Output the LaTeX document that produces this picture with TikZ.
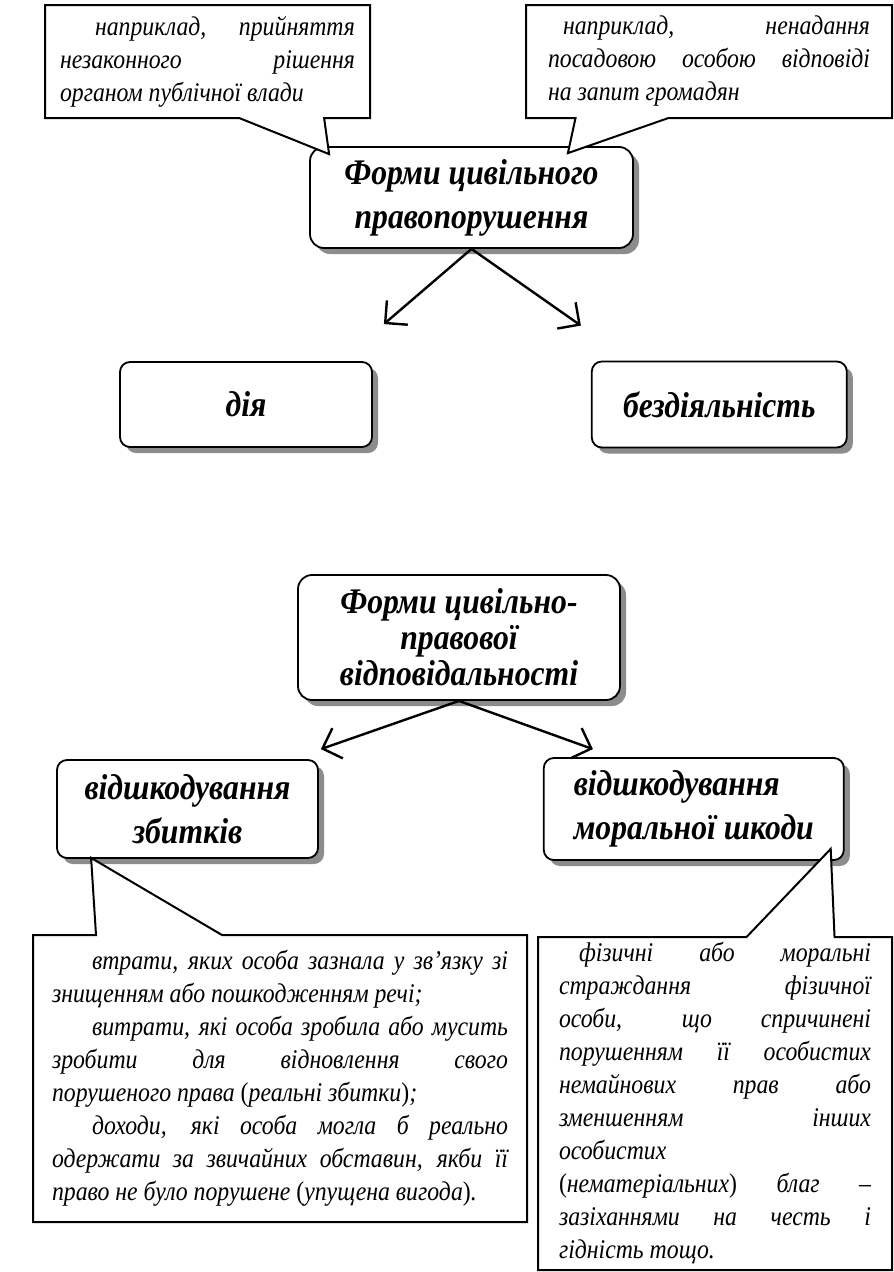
\documentclass[tikz,border=0pt]{standalone}
\usepackage{fontspec}
\setmainfont{Liberation Serif}
\newfontfamily\headfont[FakeStretch=0.88]{Liberation Serif}
\newfontfamily\notefont[FakeStretch=0.88]{Liberation Serif}
\usepackage{tikz}
\usetikzlibrary{
  arrows.meta,
  positioning,
  shapes.callouts,
  shadows
}
\definecolor{ShadowGray}{RGB}{140,140,140}
\newcommand{\parlead}[1]{\noindent\hspace*{#1}}
\tikzset{
  formbox/.style={draw,line width=1.8pt,fill=white,rounded corners=14pt,align=center,font=\headfont\fontsize{36}{44}\selectfont\bfseries\itshape,drop shadow={shadow xshift=6pt,shadow yshift=-6pt,fill=ShadowGray,opacity=1}},
  kindbox/.style={formbox,rounded corners=10pt},
  notecallout/.style={rectangle callout,draw,line width=2pt,fill=white,align=justify,inner sep=0pt,font=\notefont\fontsize{27}{33}\selectfont\itshape},
  formarrow/.style={-{Straight Barb[length=16pt,width=32pt]},line width=2.4pt}
}

\begin{document}
\begin{tikzpicture}[x=1pt,y=-1pt]
\useasboundingbox (0,0) rectangle (894,1272);
% civil offence
\node[formbox,minimum width=323pt,minimum height=101pt] (civil) at (471.5,197.5) {Форми цивільного\\правопорушення};
\node[kindbox,minimum width=252pt,minimum height=85pt] (act) at (246,404.5) {дія};
\node[kindbox,minimum width=255pt,minimum height=86pt,right=218pt of act] (omit) {бездіяльність};
\draw[formarrow] (civil.south) -- ([xshift=11pt,yshift=37pt]act.north east);
\draw[formarrow] (civil.south) -- ([xshift=-10pt,yshift=35pt]omit.north west);
\node[notecallout,text width=295pt,minimum width=325pt,minimum height=113pt,
  callout absolute pointer={([xshift=20pt,yshift=-8pt]civil.north west)},callout pointer width=85pt] (actnote) at (207.5,61.5)
  {\parlead{35pt}наприклад, прийняття\linebreak незаконного рішення\linebreak органом публічної влади};
\node[notecallout,text width=322pt,minimum width=366pt,minimum height=113pt,
  callout absolute pointer={([xshift=-66pt,yshift=-7pt]civil.north east)},callout pointer width=93pt] (omitnote) at (709,61.5)
  {\parlead{15pt}наприклад, ненадання\linebreak посадовою особою відповіді\linebreak на запит громадян};
% civil liability
\node[formbox,minimum width=322pt,minimum height=125pt,font=\headfont\fontsize{36}{36}\selectfont\bfseries\itshape] (liab) at (459,637.5) {Форми цивільно-\\правової\\відповідальності};
\node[kindbox,minimum width=261pt,minimum height=98pt] (loss) at (187.5,809) {відшкодування\\збитків};
\node[kindbox,minimum width=300pt,minimum height=102pt,align=left,right=224pt of loss] (moral) {відшкодування\\моральної шкоди};
\draw[formarrow] (liab.south) -- ([xshift=2pt,yshift=10pt]loss.north east);
\draw[formarrow] (liab.south) -- ([xshift=50pt,yshift=8pt]moral.north west);
\node[notecallout,text width=456pt,minimum width=494pt,minimum height=287pt,
  callout absolute pointer={([xshift=35pt,yshift=1pt]loss.south west)},callout pointer width=126pt] (lossnote) at (280,1078.5)
  {\parlead{40pt}втрати, яких особа зазнала у зв’язку зі\linebreak знищенням або пошкодженням речі;\par
   \parlead{40pt}витрати, які особа зробила або мусить\linebreak зробити для відновлення свого\linebreak порушеного права \textup{(}реальні збитки\textup{)};\par
   \parlead{40pt}доходи, які особа могла б реально\linebreak одержати за звичайних обставин, якби її\linebreak право не було порушене \textup{(}упущена вигода\textup{)}.};
\node[notecallout,text width=312pt,minimum width=354pt,minimum height=333pt,
  callout absolute pointer={([xshift=-14pt,yshift=12pt]moral.south east)},callout pointer width=88pt] (moralnote) at (715,1103.5)
  {\parlead{20pt}фізичні або моральні\linebreak страждання фізичної\linebreak особи, що спричинені\linebreak порушенням її особистих\linebreak немайнових прав або\linebreak зменшенням інших\linebreak особистих\linebreak \textup{(}нематеріальних\textup{)} благ –\linebreak зазіханнями на честь і\linebreak гідність тощо.};
\end{tikzpicture}
\end{document}
